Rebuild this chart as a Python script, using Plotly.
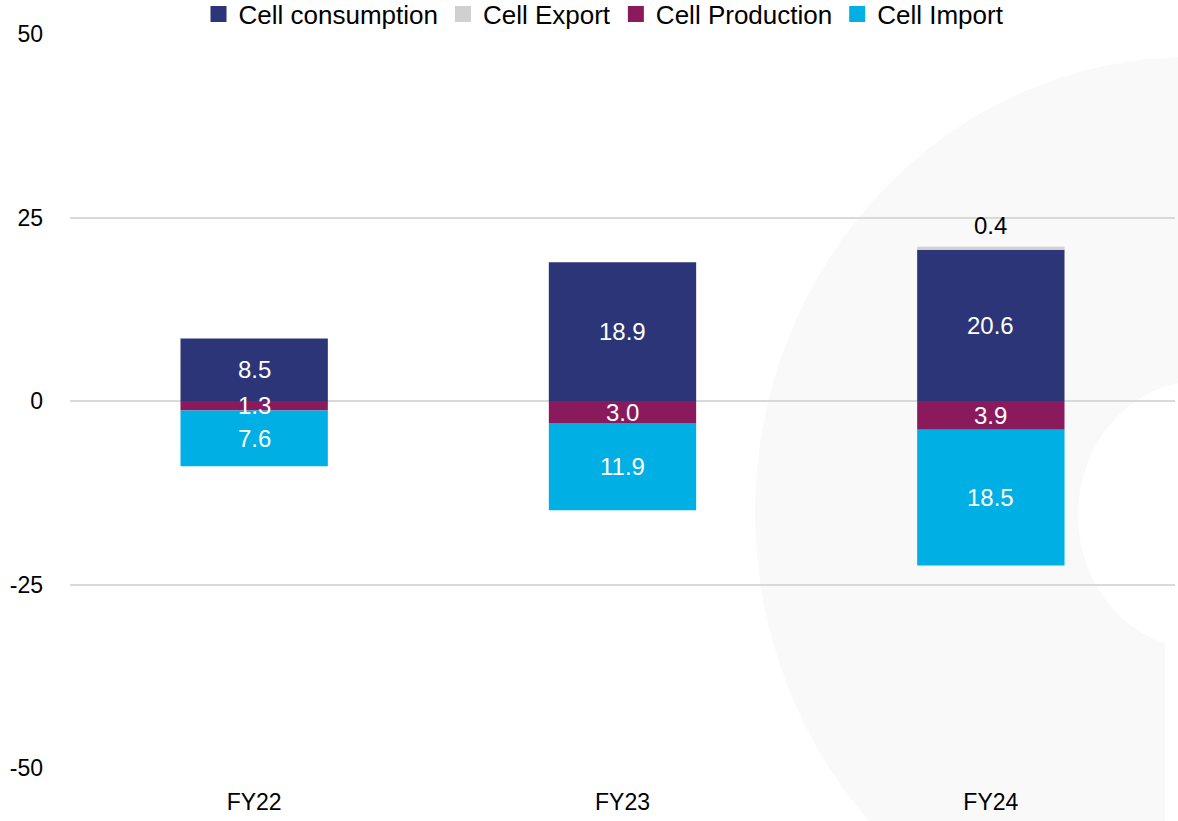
import plotly.graph_objects as go

categories = ["FY22", "FY23", "FY24"]
cell_consumption = [8.5, 18.9, 20.6]
cell_export = [0.0, 0.0, 0.4]
cell_production = [1.3, 3.0, 3.9]
cell_import = [7.6, 11.9, 18.5]

y_ticks = [-50, -25, 0, 25, 50]
y_tick_text = ["-50", "-25", "0", "25", "50"]

series_names = ["Cell consumption", "Cell Export", "Cell Production", "Cell Import"]
C_CONS = "#2B3577"
C_EXP = "#D0D0D0"
C_PROD = "#8B1A5C"
C_IMP = "#00B0E4"
colors = [C_CONS, C_EXP, C_PROD, C_IMP]

# page body margin is removed below, so the figure sits at the page origin
W, H = 1178, 821
# plot area in screen pixels
SL, SR, ST, SB = 70, 1175, 34, 768
ML, MT = SL, ST
MR, MB = W - SR, H - SB
PW, PH = SR - SL, SB - ST

def px(x):
    return (x - SL) / PW

def py(y):
    return (SB - y) / PH

fig = go.Figure()
values = [cell_consumption, cell_export,
          [-v for v in cell_production], [-v for v in cell_import]]
for name, col, vals in zip(series_names, colors, values):
    fig.add_trace(go.Bar(name=name, x=categories, y=vals, showlegend=False,
                         marker=dict(color=col, line=dict(width=0))))
# legend entries with larger square swatches
for name, col in zip(series_names, colors):
    fig.add_trace(go.Scatter(name=name, x=[None], y=[None], mode="markers",
                             marker=dict(symbol="square", size=16, color=col),
                             showlegend=True))

lab_font = dict(family="Liberation Sans, Arial, sans-serif", size=24, color="white")
anns = []
for i, c in enumerate(categories):
    cv, ev, pv, iv = cell_consumption[i], cell_export[i], cell_production[i], cell_import[i]
    if cv > 0:
        anns.append(dict(x=c, y=cv / 2, text=f"{cv:.1f}", showarrow=False, font=lab_font))
    if ev > 0:
        anns.append(dict(x=c, y=cv + ev, text=f"{ev:.1f}", showarrow=False, yshift=21,
                         font=dict(lab_font, color="black")))
    if pv > 0:
        anns.append(dict(x=c, y=-pv / 2, text=f"{pv:.1f}", showarrow=False, font=lab_font))
    if iv > 0:
        anns.append(dict(x=c, y=-(pv + iv / 2), text=f"{iv:.1f}", showarrow=False, font=lab_font))

bg = "#F9F9F9"
shapes = [
    dict(type="circle", xref="paper", yref="paper", layer="below",
         x0=px(1190 - 435), x1=px(1190 + 435), y0=py(513 + 456), y1=py(513 - 456),
         fillcolor=bg, line=dict(width=0)),
    dict(type="circle", xref="paper", yref="paper", layer="below",
         x0=px(1200 - 122), x1=px(1200 + 122), y0=py(515 + 134), y1=py(515 - 134),
         fillcolor="white", line=dict(width=0)),
    dict(type="rect", xref="paper", yref="paper", layer="below",
         x0=px(1165), x1=px(1200), y0=py(840), y1=py(641),
         fillcolor="white", line=dict(width=0)),
]

fig.update_layout(
    width=W, height=H,
    barmode="relative",
    bargap=0.6,
    paper_bgcolor="white",
    plot_bgcolor="rgba(0,0,0,0)",
    margin=dict(l=ML, r=MR, t=MT, b=MB, autoexpand=False),
    font=dict(family="Liberation Sans, Arial, sans-serif", color="black"),
    legend=dict(orientation="h", x=px(604), xanchor="center", y=py(14), yanchor="middle",
                font=dict(size=26), traceorder="normal", itemwidth=30,
                bgcolor="rgba(0,0,0,0)"),
    xaxis=dict(showgrid=False, showline=False, zeroline=False, ticks="",
               tickfont=dict(size=23), ticklabelstandoff=18),
    yaxis=dict(range=[-50, 50], tickvals=y_ticks, ticktext=y_tick_text, showgrid=True,
               gridcolor="#D9D9D9", gridwidth=1.5, zeroline=True, zerolinecolor="#D9D9D9",
               zerolinewidth=1.5, showline=False, ticks="", tickfont=dict(size=23),
               ticklabelstandoff=26),
    annotations=anns,
    shapes=shapes,
)

fig.write_html("out.html",
               config={"displayModeBar": False},
               post_script="document.body.style.margin='0';document.body.style.overflow='hidden';")
